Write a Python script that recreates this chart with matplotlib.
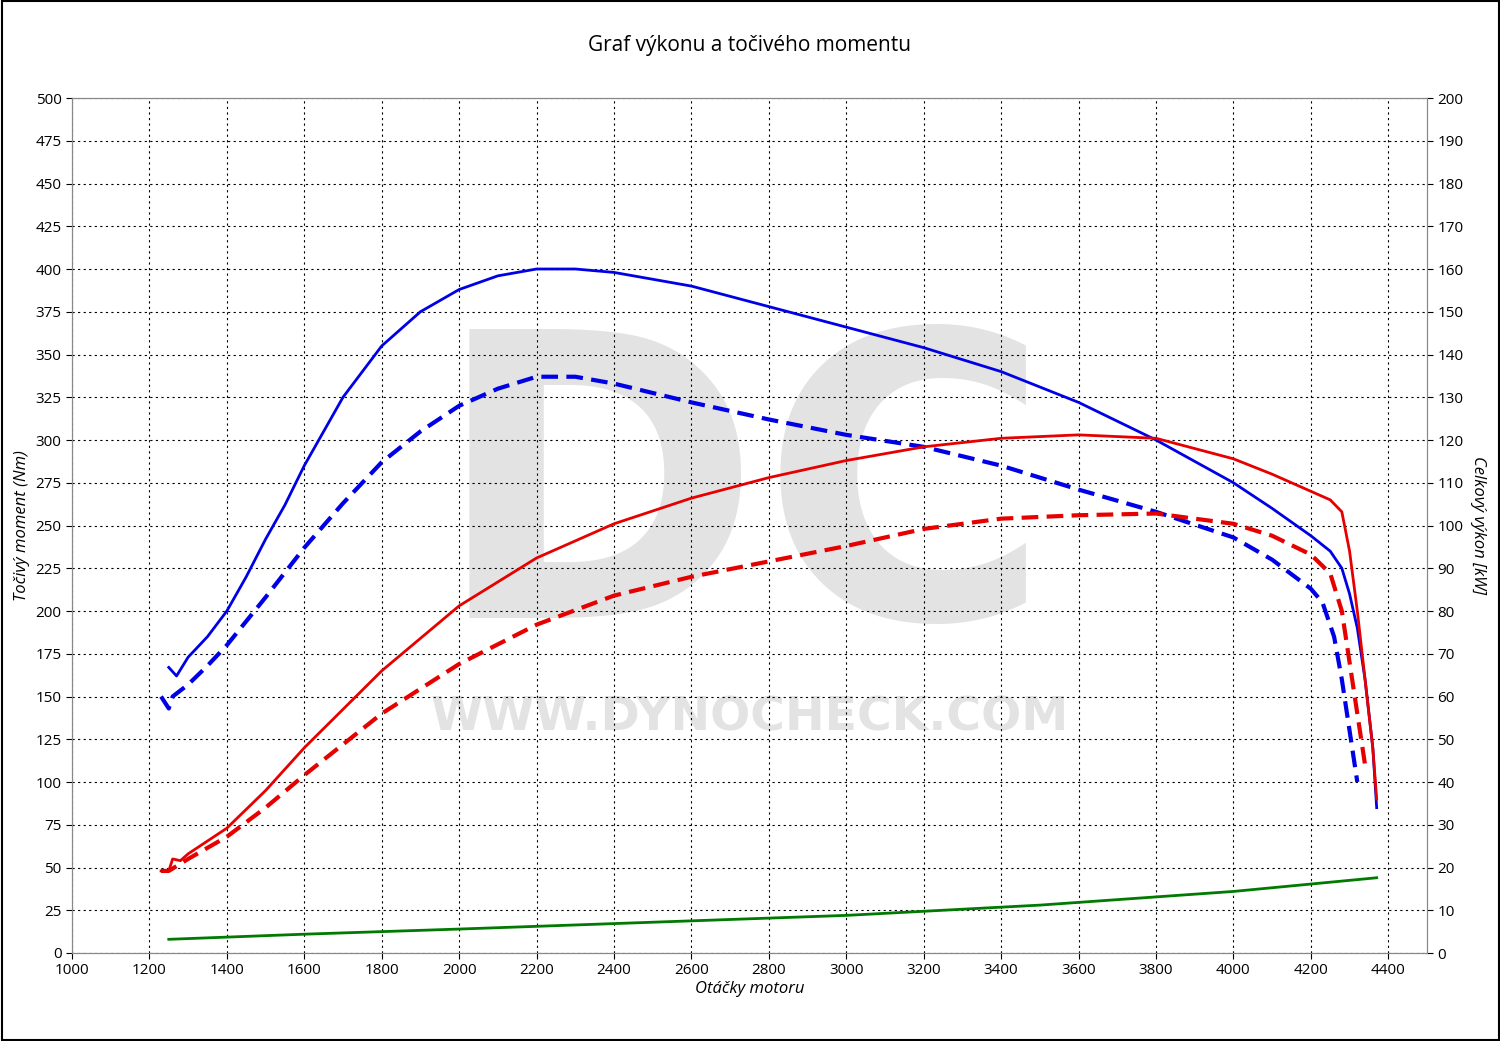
import matplotlib
matplotlib.use("Agg")
import matplotlib.pyplot as plt
import numpy as np
plt.rcParams['font.family'] = ['Open Sans', 'DejaVu Sans']

t_tuned_rpm = [1250,1270,1300,1350,1400,1450,1500,1550,1600,1700,1800,1900,2000,2100,2200,2300,2400,2600,2800,3000,3200,3400,3600,3800,4000,4100,4200,4250,4280,4300,4320,4340,4360,4370]
t_tuned = [167,162,173,185,200,220,242,262,285,325,355,375,388,396,400,400,398,390,378,366,354,340,322,300,275,260,244,235,225,210,190,160,120,85]
t_stock_rpm = [1230,1250,1260,1300,1350,1400,1500,1600,1700,1800,1900,2000,2100,2200,2300,2400,2600,2800,3000,3200,3400,3600,3800,4000,4100,4200,4230,4260,4280,4300,4320]
t_stock = [150,143,150,157,168,180,208,237,263,287,305,320,330,337,337,333,322,312,303,296,285,271,258,243,230,213,205,185,160,130,100]
p_tuned_rpm = [1230,1250,1260,1280,1300,1400,1500,1600,1800,2000,2200,2400,2600,2800,3000,3200,3400,3600,3800,4000,4100,4200,4250,4280,4300,4320,4340,4360,4370]
p_tuned_kw = [19.2,19.2,22,21.6,23.2,29.2,38,48,66,81.2,92.4,100.4,106.4,111.2,115.2,118.4,120.4,121.2,120.4,115.6,112,108,106,103.2,94,80,64,48,36]
p_stock_rpm = [1230,1250,1300,1400,1500,1600,1800,2000,2200,2400,2600,2800,3000,3200,3400,3600,3800,4000,4100,4200,4250,4280,4300,4320,4340]
p_stock_kw = [19.2,19.2,22,27.2,34,41.6,56,67.6,76.8,83.6,88,91.6,95.2,99.2,101.6,102.4,102.8,100.4,97.6,93.2,88.8,80,68,56,44]
loss_rpm = [1250,1600,2000,2500,3000,3500,4000,4370]
loss_kw = [3.2,4.4,5.6,7.2,8.8,11.2,14.4,17.6]

fig = plt.figure(figsize=(15,10.41), dpi=100)
ax = fig.add_axes([72/1500, 1-953/1041, (1427-72)/1500, (953-98)/1041])
ax2 = ax.twinx()
ax.set_xlim(1000,4500); ax.set_ylim(0,500)
ax2.set_ylim(0,200)
ax.set_xticks(range(1000,4401,200))
ax.set_yticks(range(0,501,25))
ax2.set_yticks(range(0,201,10))
ax.grid(True, color='black', linestyle=(0,(2,3)), linewidth=0.8)
ax.tick_params(labelsize=11, length=4, direction='out')
ax2.tick_params(labelsize=11, length=4, direction='out')
for a in (ax, ax2):
    for s in a.spines.values():
        s.set_color('#888888')

# watermark
ax.text(0.495, 0.52, 'DC', transform=ax.transAxes, fontsize=285, fontweight='bold', color='#e3e3e3',
        ha='center', va='center', zorder=0, family='DejaVu Sans')
ax.text(0.50, 0.275, 'WWW.DYNOCHECK.COM', transform=ax.transAxes, fontsize=34, fontweight='bold', color='#e3e3e3',
        ha='center', va='center', zorder=0, family='DejaVu Sans')

ax.plot(t_tuned_rpm, t_tuned, color='#0000e6', lw=2)
ax.plot(t_stock_rpm, t_stock, color='#0000e6', lw=3, ls=(0,(4,2)))
ax2.plot(p_tuned_rpm, p_tuned_kw, color='#e60000', lw=2)
ax2.plot(p_stock_rpm, p_stock_kw, color='#e60000', lw=3, ls=(0,(4,2)))
ax2.plot(loss_rpm, loss_kw, color='#007a00', lw=2)

ax.set_xlabel('Otáčky motoru', fontsize=12, style='italic', labelpad=2)
ax.set_ylabel('Točivý moment (Nm)', fontsize=12, style='italic')
ax2.set_ylabel('Celkový výkon [kW]', fontsize=12, style='italic', rotation=270, labelpad=16)
fig.text(0.5, 1-46/1041, 'Graf výkonu a točivého momentu', ha='center', va='center', fontsize=15)
fig.patches.append(plt.Rectangle((0.001,0.001),0.998,0.998, transform=fig.transFigure, fill=False, edgecolor='black', lw=1.5))
fig.savefig('out.png', dpi=100)
